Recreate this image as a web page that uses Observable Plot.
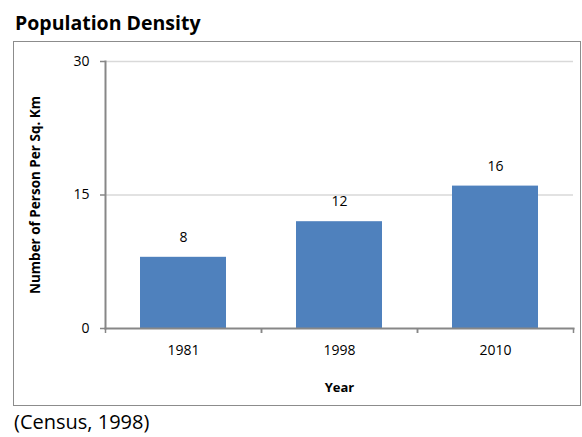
<!DOCTYPE html>
<html>
<head>
<meta charset="utf-8">
<script src="https://cdn.jsdelivr.net/npm/d3@7"></script>
<script src="https://cdn.jsdelivr.net/npm/@observablehq/plot@0.6"></script>
<style>
  html, body { margin: 0; padding: 0; background: #fff; }
  body { width: 582px; height: 437px; position: relative; overflow: hidden; font-family: "Open Sans", Lato, sans-serif; color: #000; }
  #title { position: absolute; left: 15px; top: 11px; font-size: 19.5px; font-weight: bold; line-height: 24px; white-space: nowrap; }
  #box { position: absolute; left: 13px; top: 41px; border: 1px solid #8c8c8c; width: 566px; height: 363px; }
  #box svg { display: block; }
  #caption { position: absolute; left: 14px; top: 410px; font-size: 20px; line-height: 24px; white-space: nowrap; }
</style>
</head>
<body>
<div id="title">Population Density</div>
<div id="box"></div>
<div id="caption">(Census, 1998)</div>
<script>
const years = ["1981", "1998", "2010"];
const density = [8, 12, 16];
const yTicks = [0, 15, 30];
const yLabel = "Number of Person Per Sq. Km";
const xLabel = "Year";

const data = years.map((y, i) => ({year: y, value: density[i]}));
const axisColor = "#878787";
const gridColor = "#d9d9d9";
const barColor = "#4f81bd";
const font = "'Open Sans', Lato, sans-serif";

const chart = Plot.plot({
  width: 566,
  height: 363,
  marginLeft: 91,
  marginRight: 7,
  marginTop: 19,
  marginBottom: 77,
  style: {fontFamily: font, fontSize: "14px", color: "#000", background: "#fff", overflow: "visible"},
  x: {domain: years, paddingInner: 0.45, paddingOuter: 0.225, label: null},
  y: {domain: [0, 30], label: null},
  marks: [
    Plot.gridY(yTicks.filter(d => d > 0), {stroke: gridColor, strokeOpacity: 1, strokeWidth: 1.5}),
    Plot.barY(data, {x: "year", y: "value", fill: barColor}),
    Plot.text(data, {x: "year", y: "value", text: d => String(d.value), dy: -20, fontSize: 14, fill: "#000"}),
    Plot.frame({anchor: "left", stroke: axisColor, strokeWidth: 2}),
    Plot.frame({anchor: "bottom", stroke: axisColor, strokeWidth: 2}),
    Plot.axisY({ticks: yTicks, tickSize: 5, tickPadding: 11, stroke: axisColor, strokeWidth: 1.5, fill: "#000", fontSize: 14, label: null}),
    Plot.axisX({tickSize: 5, tickFormat: null, dx: 78, stroke: axisColor, strokeWidth: 1.5, label: null}),
    Plot.axisX({tickSize: 5, tickFormat: null, dx: -78, stroke: axisColor, strokeWidth: 1.5, label: null}),
    Plot.axisX({tickSize: 0, tickPadding: 17, fill: "#000", fontSize: 14, label: null}),
    Plot.text([xLabel], {frameAnchor: "bottom", dy: 63, text: d => d, fontWeight: "bold", fontSize: 13, fill: "#000"}),
    Plot.text([yLabel], {frameAnchor: "left", textAnchor: "middle", dx: -70, rotate: -90, text: d => d, fontWeight: "bold", fontSize: 13.5, fill: "#000"})
  ]
});
document.getElementById("box").appendChild(chart);
</script>
</body>
</html>
